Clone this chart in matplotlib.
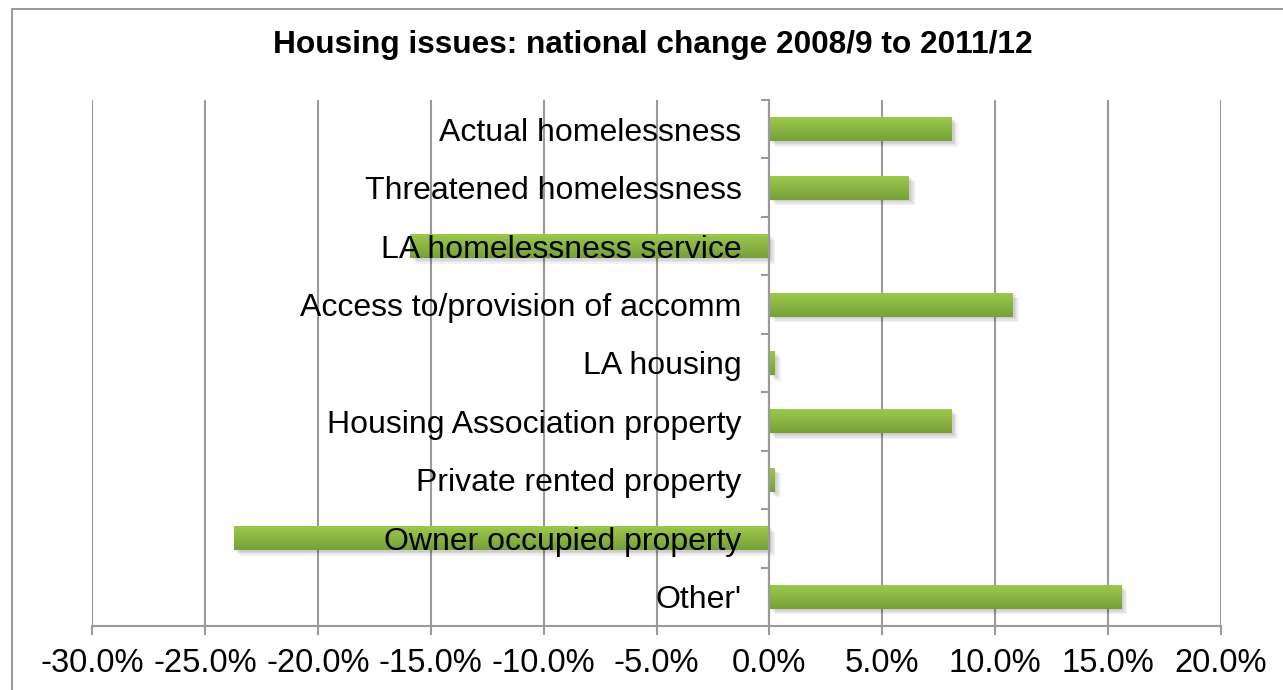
import matplotlib
matplotlib.use("Agg")
import matplotlib.pyplot as plt
import matplotlib.patheffects as pe
from matplotlib.colors import LinearSegmentedColormap
from matplotlib.patches import Rectangle
from matplotlib.ticker import FuncFormatter, MultipleLocator
import numpy as np

plt.rcParams["font.family"] = ["Liberation Sans", "DejaVu Sans"]

TITLE = "Housing issues: national change 2008/9 to 2011/12"

categories = [
  "Actual homelessness",
  "Threatened homelessness",
  "LA homelessness service",
  "Access to/provision of accomm",
  "LA housing",
  "Housing Association property",
  "Private rented property",
  "Owner occupied property",
  "Other'",
]
change_pct = [8.1, 6.2, -15.9, 10.8, 0.25, 8.1, 0.25, -23.7, 15.6]

x_min, x_max, x_step = -30, 20, 5

GRID = "#9a9a9a"
BAR_TOP = "#9dc84c"
BAR_BOTTOM = "#77a03a"

fig = plt.figure(figsize=(12.83, 6.90), dpi=100)
W, H = 1283, 690

# chart frame (runs off the right and bottom edges)
fig.patches.append(Rectangle((12 / W, -0.1), 1.2, 1 - 9 / H + 0.1, transform=fig.transFigure,
                             fill=False, edgecolor="#888888", lw=1.2))

ax = fig.add_axes([92 / W, (H - 626) / H, 1129 / W, 526 / H])

fig.text(653 / W, 1 - 53 / H, TITLE, ha="center", va="baseline", fontsize=22.8, fontweight="bold")

ypos = np.arange(len(categories))
bar_h = 0.41

for gx in np.arange(x_min, x_max + 0.1, x_step):
  ax.axvline(gx, color=GRID, lw=1.5, zorder=0.5)

# soft drop shadow built from a few faint offset copies
shadow = [pe.SimplePatchShadow(offset=(d, -d), shadow_rgbFace="#000000", alpha=0.05) for d in (1, 2, 3, 4)]
bars = ax.barh(ypos, change_pct, height=bar_h, color=BAR_BOTTOM, zorder=1.2,
               path_effects=shadow + [pe.Normal()])

# vertical light-to-dark fill on each bar
cmap = LinearSegmentedColormap.from_list("bar", [BAR_TOP, BAR_BOTTOM])
grad = np.linspace(0, 1, 64).reshape(-1, 1)
for b in bars:
  x0, y0 = b.get_x(), b.get_y()
  w, h = b.get_width(), b.get_height()
  im = ax.imshow(grad, cmap=cmap, aspect="auto", interpolation="bicubic",
                 extent=[min(x0, x0 + w), max(x0, x0 + w), y0 + h, y0], zorder=1.3)
  im.set_clip_path(b)

ax.set_xlim(x_min, x_max)
ax.set_ylim(len(categories) - 0.5, -0.5)

ax.xaxis.set_major_locator(MultipleLocator(x_step))
ax.xaxis.set_major_formatter(FuncFormatter(lambda v, _: f"{v:.1f}%"))
ax.tick_params(axis="x", length=6.5, width=1.5, color=GRID, labelsize=23.5, pad=9)

ax.set_yticks(ypos)
ax.set_yticklabels(categories)
ax.set_yticks(np.arange(-0.5, len(categories)), minor=True)
ax.tick_params(axis="y", which="major", length=0, labelsize=23, pad=20)
ax.tick_params(axis="y", which="minor", length=6, width=1.5, color=GRID)

for s in ("top", "right"):
  ax.spines[s].set_visible(False)
ax.spines["left"].set_position(("data", 0))
ax.spines["left"].set_color(GRID)
ax.spines["left"].set_linewidth(1.5)
ax.spines["bottom"].set_color(GRID)
ax.spines["bottom"].set_linewidth(1.5)

fig.savefig("out.png", dpi=100)
